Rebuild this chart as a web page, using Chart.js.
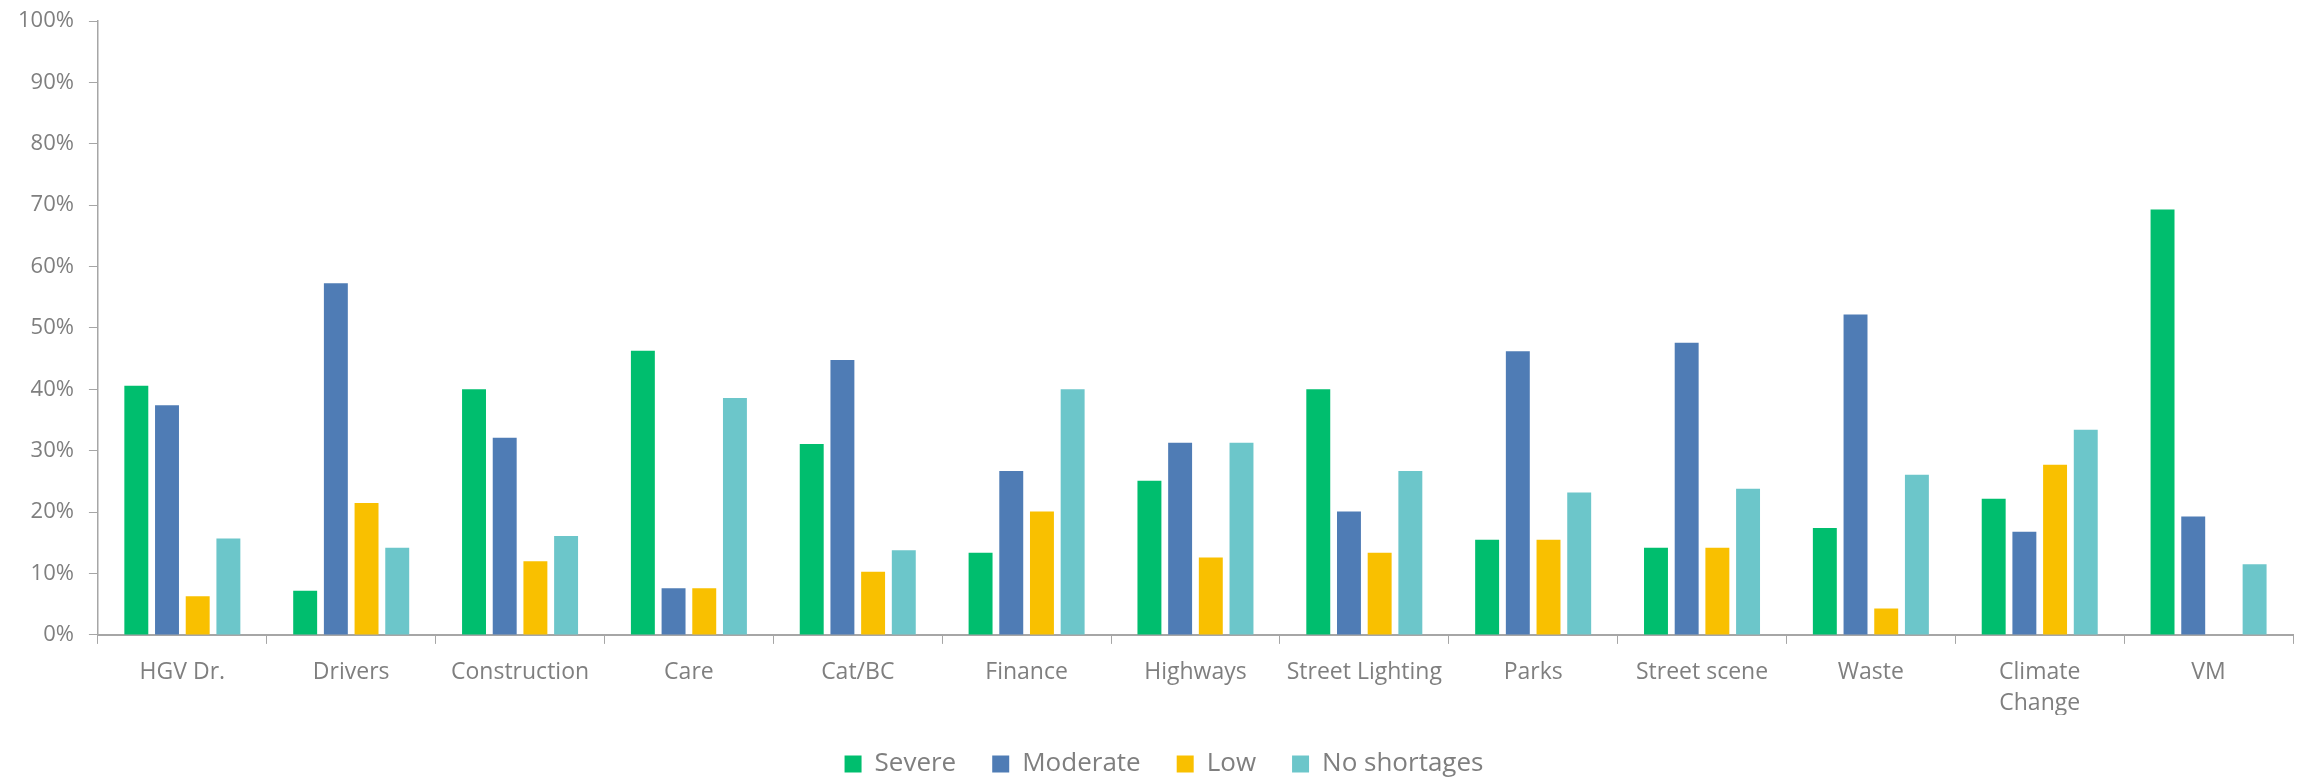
<!DOCTYPE html>
<html>
<head>
<meta charset="utf-8">
<script src="https://cdn.jsdelivr.net/npm/chart.js@4"></script>
<style>
  html, body { margin: 0; padding: 0; background: #fff; }
  #wrap { width: 2308px; height: 777px; }
</style>
</head>
<body>
<div id="wrap"><canvas id="chart" width="2308" height="777"></canvas></div>
<script>
  // categorias e valores (%)
  const categories = ['HGV Dr.', 'Drivers', 'Construction', 'Care', 'Cat/BC', 'Finance', 'Highways',
                      'Street Lighting', 'Parks', 'Street scene', 'Waste', ['Climate', 'Change'], 'VM'];
  const severe      = [40.6, 7.2, 40.0, 46.3, 31.1, 13.4, 25.1, 40.0, 15.5, 14.2, 17.4, 22.2, 69.3];
  const moderate    = [37.4, 57.3, 32.1, 7.6, 44.8, 26.7, 31.3, 20.1, 46.2, 47.6, 52.2, 16.8, 19.3];
  const low         = [6.3, 21.5, 12.0, 7.6, 10.3, 20.1, 12.6, 13.4, 15.5, 14.2, 4.3, 27.7, 0];
  const noShortages = [15.7, 14.2, 16.1, 38.6, 13.8, 40.0, 31.3, 26.7, 23.2, 23.8, 26.1, 33.4, 11.5];
  const yTicks = [0, 10, 20, 30, 40, 50, 60, 70, 80, 90, 100];

  const axisGray = '#A6A6A6';
  const textGray = '#7F7F7F';
  const fontFam = '"Open Sans", Lato, sans-serif';

  const mk = (label, data, color) => ({
      label: label,
      data: data,
      backgroundColor: color,
      borderWidth: 0,
      categoryPercentage: 0.727,
      barPercentage: 0.78
  });

  // legenda: espaçamento horizontal grande mas altura menor, e um pouco à direita
  const legendFit = {
      id: 'legendFit',
      beforeInit(chart) {
          const fit = chart.legend.fit;
          chart.legend.fit = function () {
              fit.bind(chart.legend)();
              this.height -= 10;
          };
      },
      afterLayout(chart) {
          chart.legend.left += 16;
          chart.legend.right += 16;
      }
  };

  new Chart(document.getElementById('chart').getContext('2d'), {
      type: 'bar',
      data: {
          labels: categories,
          datasets: [
              mk('Severe', severe, '#00BE6E'),
              mk('Moderate', moderate, '#4F7CB5'),
              mk('Low', low, '#F9C000'),
              mk('No shortages', noShortages, '#6CC6CA')
          ]
      },
      options: {
          responsive: false,
          animation: false,
          layout: { padding: { left: 3, right: 15, top: 0, bottom: 0 } },
          scales: {
              x: {
                  grid: { display: true, drawOnChartArea: false, offset: true, color: axisGray, tickLength: 9 },
                  border: { color: axisGray, width: 2 },
                  ticks: { color: textGray, font: { family: fontFam, size: 23, lineHeight: 1.35 },
                           maxRotation: 0, autoSkip: false, padding: 13 },
                  afterFit: scale => { scale.height -= 17; }
              },
              y: {
                  min: 0, max: 100,
                  afterBuildTicks: axis => { axis.ticks = yTicks.map(v => ({ value: v })); },
                  grid: { display: true, drawOnChartArea: false, color: axisGray, tickLength: 9 },
                  border: { color: axisGray, width: 1.5 },
                  ticks: { color: textGray, font: { family: fontFam, size: 22, lineHeight: 0.55 }, padding: 15,
                           callback: v => v + '%' }
              }
          },
          plugins: {
              legend: {
                  position: 'bottom',
                  labels: { color: textGray, font: { family: fontFam, size: 26 }, boxWidth: 17, boxHeight: 17, padding: 36 }
              },
              tooltip: { enabled: false }
          }
      },
      plugins: [legendFit]
  });
</script>
</body>
</html>
